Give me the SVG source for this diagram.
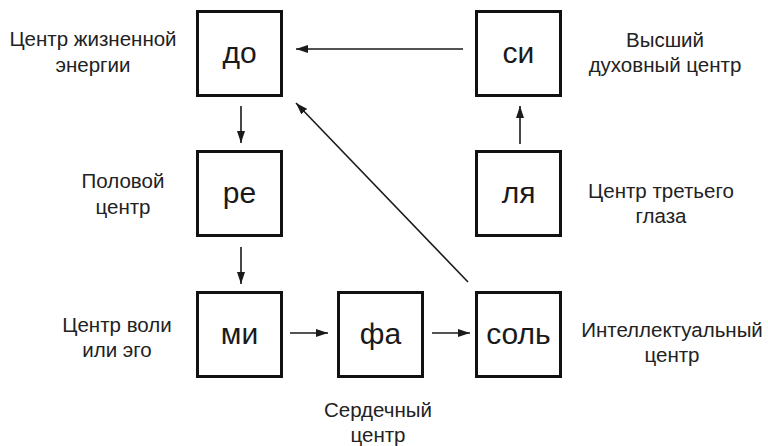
<svg xmlns="http://www.w3.org/2000/svg" width="768" height="446" viewBox="0 0 768 446">
<defs>
<style>
.box{fill:#fff;stroke:#111;stroke-width:3}
.bt{font-family:"Liberation Sans",Arial,sans-serif;font-size:30px;fill:#1a1a1a;text-anchor:middle}
.lb{font-family:"Liberation Sans",Arial,sans-serif;font-size:20.5px;fill:#222;text-anchor:middle}
.ln{stroke:#1a1a1a;stroke-width:1.6;fill:none;marker-end:url(#ah)}
</style>
<marker id="ah" viewBox="0 0 12 8" refX="12" refY="4" markerWidth="12" markerHeight="8" markerUnits="userSpaceOnUse" orient="auto">
<path d="M0,0 L12,4 L0,8 Z" fill="#1a1a1a"/>
</marker>
</defs>
<rect width="768" height="446" fill="#fff"/>
<g id="connectors">
<line class="ln" x1="463" y1="49" x2="296" y2="49"/>
<line class="ln" x1="468" y1="282" x2="296" y2="103"/>
<line class="ln" x1="241" y1="106" x2="241" y2="143"/>
<line class="ln" x1="241" y1="247" x2="241" y2="284"/>
<line class="ln" x1="290" y1="333" x2="328" y2="333"/>
<line class="ln" x1="432" y1="333" x2="470" y2="333"/>
<line class="ln" x1="520" y1="144" x2="520" y2="106"/>
</g>
<g id="do"><rect class="box" x="197.5" y="11.5" width="84" height="84"/><text class="bt" x="239.5" y="63">до</text></g>
<g id="si"><rect class="box" x="476.5" y="11.5" width="84" height="84"/><text class="bt" x="518.5" y="63">си</text></g>
<g id="re"><rect class="box" x="197.5" y="151.5" width="84" height="84"/><text class="bt" x="239.5" y="203">ре</text></g>
<g id="lya"><rect class="box" x="476.5" y="151.5" width="84" height="84"/><text class="bt" x="518.5" y="203">ля</text></g>
<g id="mi"><rect class="box" x="197.5" y="292.5" width="84" height="84"/><text class="bt" x="239.5" y="344">ми</text></g>
<g id="fa"><rect class="box" x="338.5" y="292.5" width="84" height="84"/><text class="bt" x="380.5" y="344">фа</text></g>
<g id="sol"><rect class="box" x="476.5" y="292.5" width="84" height="84"/><text class="bt" x="518.5" y="344">соль</text></g>
<g id="labels">
<text class="lb" x="93" y="46">Центр жизненной</text>
<text class="lb" x="93" y="72">энергии</text>
<text class="lb" x="665" y="47">Высший</text>
<text class="lb" x="665" y="72">духовный центр</text>
<text class="lb" x="123" y="188">Половой</text>
<text class="lb" x="123" y="214">центр</text>
<text class="lb" x="661" y="198">Центр третьего</text>
<text class="lb" x="661" y="223">глаза</text>
<text class="lb" x="117" y="332">Центр воли</text>
<text class="lb" x="117" y="357">или эго</text>
<text class="lb" x="672" y="337">Интеллектуальный</text>
<text class="lb" x="672" y="362">центр</text>
<text class="lb" x="378" y="417">Сердечный</text>
<text class="lb" x="378" y="442">центр</text>
</g>
</svg>
